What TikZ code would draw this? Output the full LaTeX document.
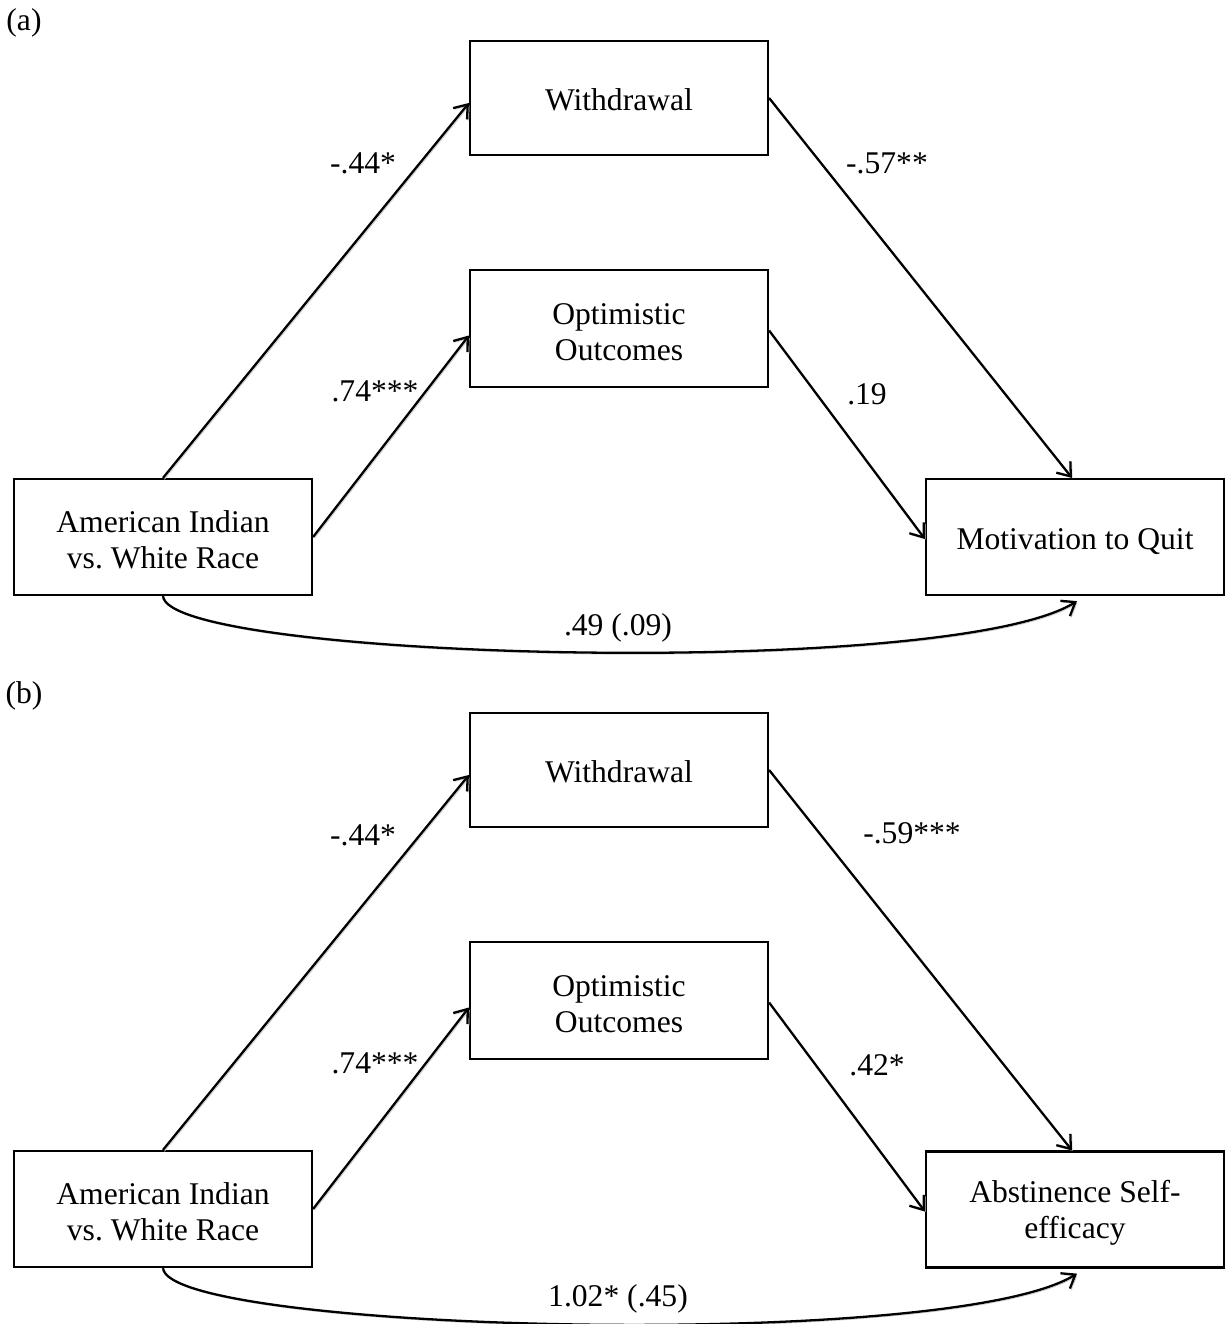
\documentclass[tikz,border=0pt]{standalone}
\usepackage{fontspec}
\setmainfont{Liberation Serif}
\usetikzlibrary{arrows.meta}
\frenchspacing

\begin{document}
\begin{tikzpicture}[x=0.5pt,y=-0.5pt,
    font=\fontsize{15.8pt}{18pt}\selectfont,
    varbox/.style={draw,line width=1.1pt,minimum width=149pt,align=center,inner sep=0pt},
    oneline/.style={text height=13pt,text depth=1pt},
    twoline/.style={text height=32pt},
    path/.style={line width=1.15pt,-{Straight Barb[length=6pt,width=9pt]},
      preaction={draw=gray!40,transform canvas={shift={(0.7pt,-0.7pt)}}}},
    coef/.style={inner sep=1pt}]
    \useasboundingbox (0,0) rectangle (1227,1324);

    % Panel (a)
    \node (tagA) at (24,23) {(a)};
    \node[varbox,twoline,minimum height=58pt] (raceA) at (163,537) {American Indian\\vs. White Race};
    \node[varbox,oneline,minimum height=57pt] (wdA) at (619,98) {Withdrawal};
    \node[varbox,twoline,minimum height=58.5pt] (optA) at (619,328.5) {Optimistic\\Outcomes};
    \node[varbox,oneline,minimum height=58pt] (motA) at (1075,537) {Motivation to Quit};

    \draw[path] (raceA.north) -- ([yshift=-2.5pt]wdA.west);
    \draw[path] (raceA.east) -- ([yshift=-3.5pt]optA.west);
    \draw[path] (wdA.east) -- ([xshift=-1.5pt]motA.north);
    \draw[path] ([yshift=-1pt]optA.east) -- ([yshift=-1pt]motA.west);
    \draw[path] (raceA.south) .. controls (168,660) and (950,680) .. ([xshift=1pt,yshift=-2.5pt]motA.south);

    \node[coef] (aA) at (363,163) {-.44*};
    \node[coef] (bA) at (375,391) {.74***};
    \node[coef] (cA) at (887,163) {-.57**};
    \node[coef] (dA) at (867,394) {.19};
    \node[coef] (eA) at (618,628) {.49 (.09)};

    % Panel (b)
    \node (tagB) at (24,696) {(b)};
    \node[varbox,twoline,minimum height=58pt] (raceB) at (163,1209) {American Indian\\vs. White Race};
    \node[varbox,oneline,minimum height=57pt] (wdB) at (619,770) {Withdrawal};
    \node[varbox,twoline,minimum height=58.5pt] (optB) at (619,1000.5) {Optimistic\\Outcomes};
    \node[varbox,twoline,minimum height=58pt] (absB) at (1075,1209.5) {Abstinence Self-\\efficacy};

    \draw[path] (raceB.north) -- ([yshift=-2.5pt]wdB.west);
    \draw[path] (raceB.east) -- ([yshift=-3.5pt]optB.west);
    \draw[path] (wdB.east) -- ([xshift=-1.5pt]absB.north);
    \draw[path] ([yshift=-1pt]optB.east) -- ([yshift=-1pt]absB.west);
    \draw[path] (raceB.south) .. controls (168,1332) and (950,1352) .. ([xshift=1pt,yshift=-2.5pt]absB.south);

    \node[coef] (aB) at (363,835) {-.44*};
    \node[coef] (bB) at (375,1063) {.74***};
    \node[coef] (cB) at (912,833) {-.59***};
    \node[coef] (dB) at (877,1065) {.42*};
    \node[coef] (eB) at (618,1299) {1.02* (.45)};
\end{tikzpicture}
\end{document}
